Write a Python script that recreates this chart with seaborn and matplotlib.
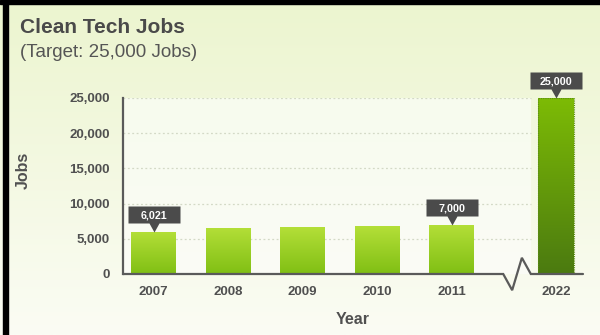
import numpy as np
import pandas as pd
import matplotlib
matplotlib.use("Agg")
import matplotlib.pyplot as plt
import seaborn as sns
from matplotlib.path import Path
from matplotlib.patches import Rectangle
from matplotlib.colors import to_rgb

# ---- data -------------------------------------------------------------
years = ["2007", "2008", "2009", "2010", "2011", "2022"]
jobs = [6021, 6600, 6650, 6800, 7000, 25000]
labelled_years = ["2007", "2011", "2022"]
y_ticks = [0, 5000, 10000, 15000, 20000, 25000]

# ---- layout -----------------------------------------------------------
# horizontal slots: the target year sits past a broken axis
slots = [0, 1, 2, 3, 4, 5.4]
BREAK = (4.69, 4.81, 4.94, 5.06)
ZIG = 2300
XLIM = (-0.41, 5.76)
W, H = 600, 335

TXT = "#505050"


def vgrad(top, bottom, n=256):
    t = np.linspace(0, 1, n)[:, None, None]
    return (1 - t) * np.array(to_rgb(top)) + t * np.array(to_rgb(bottom))


sns.set_theme(style="white")
plt.rcParams["font.family"] = ["Liberation Sans", "DejaVu Sans"]

fig = plt.figure(figsize=(W / 100, H / 100), dpi=100)

# page background
bg = fig.add_axes([0, 0, 1, 1], zorder=-10)
bg.imshow(vgrad("#ecf5cf", "#fbfcf4"), extent=[0, 1, 0, 1], aspect="auto")
bg.set_xlim(0, 1)
bg.set_ylim(0, 1)
bg.axis("off")

ax = fig.add_axes([123 / W, 1 - 274 / H, (583 - 123) / W, (274 - 98) / H])
ax.set_facecolor("none")

# light plotting panel up to the axis break
panel = ax.imshow(vgrad("#f7fbee", "#fbfcf6"),
                  extent=[XLIM[0], BREAK[3], 0, y_ticks[-1]],
                  aspect="auto", zorder=0)

# dotted gridlines
ax.hlines(y_ticks[1:], XLIM[0], BREAK[3], colors="#d3d9c6",
          linestyles=(0, (1.5, 2)), linewidth=0.9, zorder=0.5)

df = pd.DataFrame({"slot": slots, "jobs": jobs, "year": years})
sns.barplot(data=df.iloc[:5], x="slot", y="jobs", native_scale=True,
            orient="x", width=0.6, errorbar=None, color="#9ccf22",
            saturation=1, ax=ax, zorder=2, linewidth=0)
sns.barplot(data=df.iloc[5:], x="slot", y="jobs", native_scale=True,
            orient="x", width=0.48, errorbar=None, color="#66a00a",
            saturation=1, ax=ax, zorder=2)

# vertical gradient fill clipped to each bar
bar_patches = [p for c in ax.containers for p in c]
for i, p in enumerate(bar_patches):
    x0, w, h = p.get_x(), p.get_width(), p.get_height()
    if i < 5:
        img = vgrad("#b4df38", "#80bf14")
        p.set_edgecolor("none")
        p.set_linewidth(0)
    else:
        img = vgrad("#7dbb05", "#4b7a10")
        p.set_edgecolor("#5c8c14")
        p.set_linestyle((0, (1, 1)))
        p.set_linewidth(0.8)
    im = ax.imshow(img, extent=[x0, x0 + w, 0, h], aspect="auto", zorder=1.9)
    im.set_clip_path(p)
    p.set_facecolor("none")

# value callouts: dark box with a pointer touching the bar top
callout = Path([(-26, 26), (26, 26), (26, 9), (5, 9), (0, 0), (-5, 9),
                (-26, 9), (-26, 26)],
               [Path.MOVETO] + [Path.LINETO] * 6 + [Path.CLOSEPOLY])
for yr in labelled_years:
    i = years.index(yr)
    x, v = slots[i], jobs[i]
    ax.plot([x], [v], marker=callout, markersize=37.44, color="#4b4b4b",
            markeredgewidth=0, linestyle="none", clip_on=False, zorder=6)
    ax.annotate(f"{v:,}", (x, v), xytext=(0, 12.6),
                textcoords="offset points", ha="center",
                va="center_baseline", color="white", fontsize=7.7,
                fontweight="bold", zorder=7, annotation_clip=False)

# x axis line with a break marker
ax.plot([XLIM[0], BREAK[0], BREAK[1], BREAK[2], BREAK[3], XLIM[1]],
        [0, 0, -ZIG, ZIG, 0, 0], color="#5a5a5a", linewidth=1.6,
        clip_on=False, zorder=5, solid_joinstyle="miter")

for side in ("top", "right", "bottom"):
    ax.spines[side].set_visible(False)
ax.spines["left"].set_color("#5a5a5a")
ax.spines["left"].set_linewidth(1.6)
ax.spines["left"].set_zorder(5)

ax.set_xticks(slots, years)
ax.set_yticks(y_ticks, [f"{t:,}" for t in y_ticks])
ax.tick_params(axis="both", length=0, labelsize=9.5, colors=TXT)
ax.tick_params(axis="y", pad=9.4)
ax.tick_params(axis="x", pad=8.6)
for lab in ax.get_xticklabels() + ax.get_yticklabels():
    lab.set_fontweight("bold")
ax.set_xlabel("")
ax.set_ylabel("")
ax.grid(False)
ax.set_xlim(XLIM)
ax.set_ylim(0, y_ticks[-1])

fig.text(353 / W, 1 - 324 / H, "Year", ha="center", va="baseline",
         fontsize=11.5, fontweight="bold", color=TXT)
fig.text(23 / W, 1 - 170 / H, "Jobs", ha="center", va="center",
         rotation=90, fontsize=11.5, fontweight="bold", color=TXT)

fig.text(20 / W, 1 - 33 / H, "Clean Tech Jobs", ha="left", va="baseline",
         fontsize=15, fontweight="bold", color="#4a4a4a")
fig.text(20 / W, 1 - 57 / H, "(Target: 25,000 Jobs)", ha="left",
         va="baseline", fontsize=13.5, color="#555555")

# frame edges
fig.add_artist(Rectangle((0, 1 - 4 / H), 1, 4 / H, transform=fig.transFigure,
                         color="black", zorder=20))
fig.add_artist(Rectangle((3 / W, 0), 5 / W, 1, transform=fig.transFigure,
                         color="black", zorder=20))

fig.savefig("out.png", dpi=100)
